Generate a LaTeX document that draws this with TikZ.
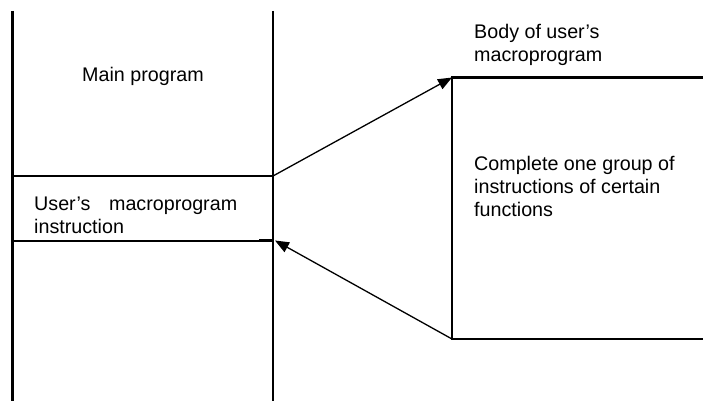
\documentclass[tikz,border=0pt]{standalone}
\usepackage{fontspec}
\setmainfont{Liberation Sans}
\usetikzlibrary{arrows.meta}

\begin{document}
\begin{tikzpicture}[x=1pt, y=-1pt,
    every node/.style={font=\fontsize{19.7pt}{23pt}\selectfont, inner sep=0pt},
    wall/.style={line width=2.4pt},
    thinwall/.style={line width=1.3pt},
    jump/.style={line width=1.3pt, -{Triangle[length=14pt,width=11pt]}}]
  \useasboundingbox (0,0) rectangle (703,401);

  % Main program column
  \coordinate (lefttop) at (12.5,11);
  \coordinate (leftbot) at (12.5,401);
  \coordinate (righttop) at (273,11);
  \coordinate (rightbot) at (273,401);
  \coordinate (callleft) at (12.5,176);
  \coordinate (callpt) at (273,176);
  \coordinate (retleft) at (12.5,241);
  \coordinate (retend) at (262,241);
  \coordinate (retstub) at (259,240.5);
  \coordinate (retpt) at (273,240.5);
  \draw[wall] (lefttop) -- (leftbot);
  \draw[wall] (righttop) -- (rightbot);
  \draw[wall] (callleft) -- (callpt);
  \draw[thinwall] (retleft) -- (retend);
  \draw[wall] (retstub) -- (retpt);

  \node[anchor=base] (main) at (143,82) {Main program};
  \node[anchor=north west, align=left] (instr) at (34,196.5)
    {\makebox[203pt][s]{User’s macroprogram}\\instruction};

  % Body of the macroprogram
  \coordinate (bodytop) at (452,77.5);
  \coordinate (bodybot) at (452,339);
  \coordinate (bodytopend) at (703,77.5);
  \coordinate (bodybotend) at (703,339);
  \draw[wall] (bodytopend) -- (bodytop) -- (bodybot) -- (bodybotend);

  \node[anchor=north west, align=left] (body) at (474,24.5)
    {Body of user’s\\macroprogram};
  \node[anchor=north west, align=left] (group) at (474,156)
    {Complete one group of\\instructions of certain\\functions};

  % Call and return
  \draw[jump] (callpt) -- (bodytop);
  \draw[jump] (bodybot) -- ([xshift=2pt]retpt);
\end{tikzpicture}
\end{document}
